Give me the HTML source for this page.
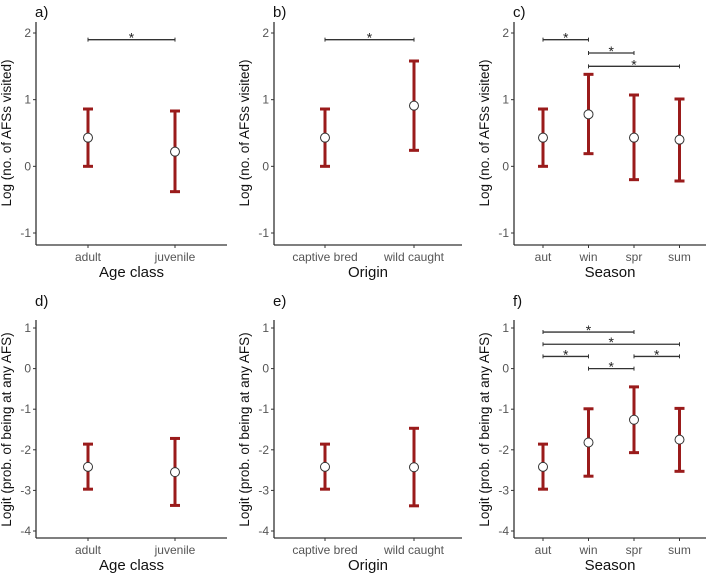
<!DOCTYPE html>
<html><head><meta charset="utf-8"><style>
body{margin:0;background:#fff;}
svg text{font-family:"Liberation Sans",sans-serif;}
</style></head><body>
<svg id="c" width="708" height="577"></svg>
<script>
const panelLabels=["a)","b)","c)","d)","e)","f)"];
const cats2a=["adult","juvenile"];
const cats2b=["captive bred","wild caught"];
const cats4=["aut","win","spr","sum"];
const xTitles=["Age class","Origin","Season","Age class","Origin","Season"];
const yTitleTop="Log (no. of AFSs visited)";
const yTitleBot="Logit (prob. of being at any AFS)";
const ticksTop=[-1,0,1,2];
const ticksBot=[-4,-3,-2,-1,0,1];
const meanA=[0.43,0.22], loA=[0.0,-0.38], hiA=[0.86,0.83];
const meanB=[0.43,0.91], loB=[0.0,0.24], hiB=[0.86,1.58];
const meanC=[0.43,0.78,0.43,0.40], loC=[0.0,0.19,-0.2,-0.22], hiC=[0.86,1.38,1.07,1.01];
const meanD=[-2.42,-2.55], loD=[-2.97,-3.37], hiD=[-1.86,-1.72];
const meanE=[-2.42,-2.43], loE=[-2.97,-3.38], hiE=[-1.86,-1.47];
const meanF=[-2.42,-1.82,-1.26,-1.75], loF=[-2.97,-2.65,-2.07,-2.53], hiF=[-1.86,-0.99,-0.45,-0.98];
const sigA=[[0,1,1.9]], sigB=[[0,1,1.9]], sigC=[[0,1,1.9],[1,2,1.7],[1,3,1.5]];
const sigF=[[0,2,0.9],[0,3,0.6],[0,1,0.3],[2,3,0.3],[1,2,0.0]];
const svg=document.getElementById('c');
const NS="http://www.w3.org/2000/svg";
function mk(t,a,txt){const e=document.createElementNS(NS,t);for(const k in a)e.setAttribute(k,a[k]);if(txt!==undefined)e.textContent=txt;svg.appendChild(e);return e;}
function panel(i,ax,ax1,catX0,catDx,top,bottom,vmin,vmax,ticks,cats,mean,lo,hi,sig,ytitle,labY,titY,axTop,axBot,pLabY){
  const y=v=>bottom-(v-vmin)/(vmax-vmin)*(bottom-top);
  const x=k=>catX0+k*catDx;
  let e=mk('text',{x:ax-1,y:pLabY,'font-size':15,fill:'#111'},panelLabels[i]);
  
  e=mk('line',{x1:ax,y1:axTop,x2:ax,y2:axBot,stroke:'#333','stroke-width':1.3});
  
  e=mk('line',{x1:ax,y1:axBot,x2:ax1,y2:axBot,stroke:'#333','stroke-width':1.3});
  
  ticks.forEach(t=>{
    e=mk('line',{x1:ax-3,y1:y(t),x2:ax,y2:y(t),stroke:'#333'});
    
    e=mk('text',{x:ax-5,y:y(t)+4,'font-size':12,fill:'#555','text-anchor':'end'},String(t));
    
  });
  cats.forEach((c,k)=>{
    e=mk('line',{x1:x(k),y1:axBot,x2:x(k),y2:axBot+3,stroke:'#333'});
    
    e=mk('text',{x:x(k),y:labY,'font-size':12,fill:'#555','text-anchor':'middle'},c);
    
    e=mk('line',{x1:x(k),y1:y(lo[k]),x2:x(k),y2:y(hi[k]),stroke:'#9a1b1b','stroke-width':3});
    
    [lo[k],hi[k]].forEach(v=>{e=mk('line',{x1:x(k)-5,y1:y(v),x2:x(k)+5,y2:y(v),stroke:'#9a1b1b','stroke-width':3});
      });
    e=mk('circle',{cx:x(k),cy:y(mean[k]),r:4.5,fill:'#fff',stroke:'#333','stroke-width':1});
    
  });
  sig.forEach(s=>{
    const yy=y(s[2]);
    e=mk('line',{x1:x(s[0]),y1:yy,x2:x(s[1]),y2:yy,stroke:'#333','stroke-width':1.3});
    
    [s[0],s[1]].forEach(k=>{e=mk('line',{x1:x(k),y1:yy-2,x2:x(k),y2:yy+2,stroke:'#333'});
      });
    e=mk('text',{x:(x(s[0])+x(s[1]))/2,y:yy+3,'font-size':14,fill:'#222','text-anchor':'middle'},'*');
    
  });
  e=mk('text',{x:(ax+ax1)/2,y:titY,'font-size':15,fill:'#111','text-anchor':'middle'},xTitles[i]);
  
  const cy=(top+bottom)/2;
  e=mk('text',{x:ax-25,y:cy,'font-size':13.5,fill:'#111','text-anchor':'middle',transform:`rotate(-90 ${ax-25} ${cy})`},ytitle);
  
}
// top row: value 2 at y=33, -1 at y=233
panel(0,36,227,88,87,33,233,-1,2,ticksTop,cats2a,meanA,loA,hiA,sigA,yTitleTop,261,277,22,245,17);
panel(1,274,462,325,89,33,233,-1,2,ticksTop,cats2b,meanB,loB,hiB,sigB,yTitleTop,261,277,22,245,17);
panel(2,514,706,543,45.5,33,233,-1,2,ticksTop,cats4,meanC,loC,hiC,sigC,yTitleTop,261,277,22,245,17);
// bottom row: 1 at 328, -4 at 531
panel(3,36,227,88,87,328,531,-4,1,ticksBot,cats2a,meanD,loD,hiD,[],yTitleBot,554,570,320,538,306);
panel(4,274,462,325,89,328,531,-4,1,ticksBot,cats2b,meanE,loE,hiE,[],yTitleBot,554,570,320,538,306);
panel(5,514,706,543,45.5,328,531,-4,1,ticksBot,cats4,meanF,loF,hiF,sigF,yTitleBot,554,570,320,538,306);
</script>
</body></html>
